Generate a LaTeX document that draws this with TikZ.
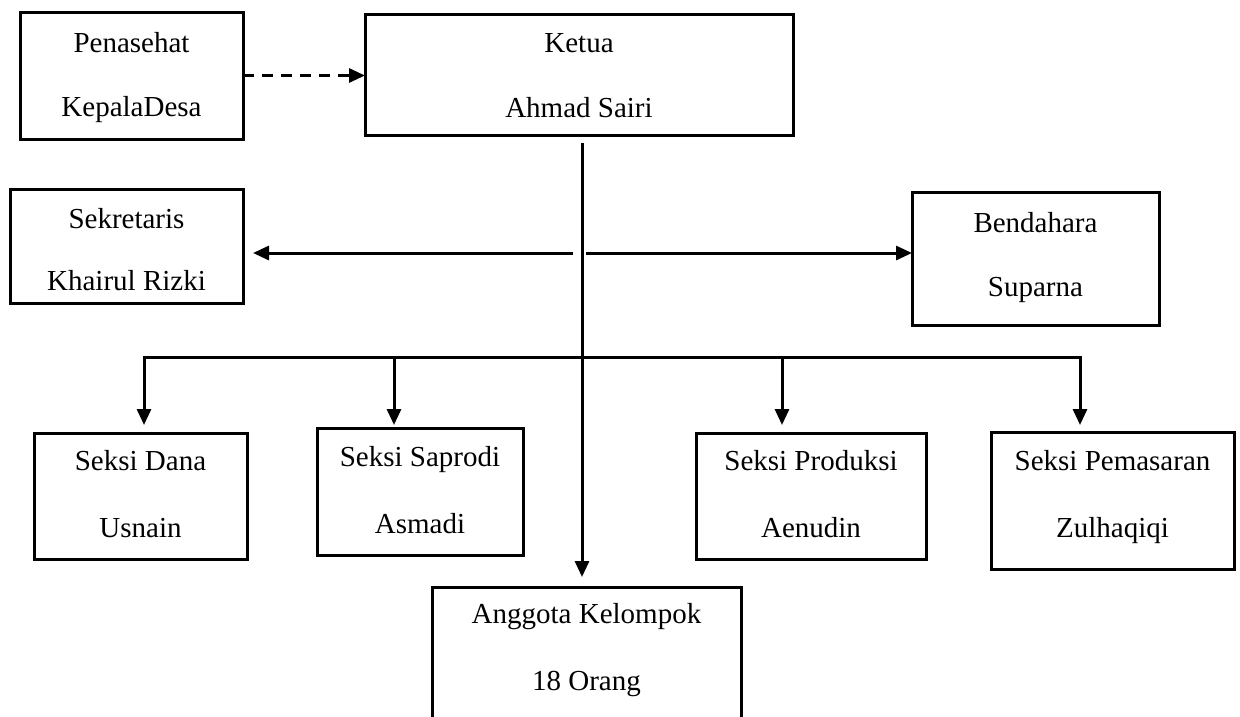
\documentclass[tikz,border=0pt]{standalone}
\usepackage{fontspec}
\setmainfont{Liberation Serif}
\usetikzlibrary{arrows.meta}

\tikzset{
  unitbox/.style={draw, rectangle, line width=3pt, inner sep=0pt, outer sep=0pt},
  unittext/.style={anchor=base, inner sep=0pt, font=\fontsize{29}{35}\selectfont},
  conn/.style={line width=3pt, -{Triangle[length=16pt,width=14pt]}},
  advice/.style={conn, dash pattern=on 11pt off 8pt},
}

% \orgunit{name}{x1}{y1}{x2}{y2}{baseline 1}{baseline 2}{line 1}{line 2}
\newcommand{\orgunit}[9]{%
  \node[unitbox, minimum width={(#4-#2)*1pt}, minimum height={(#5-#3)*1pt},
        anchor=north west] (#1) at (#2,#3) {};
  \node[unittext] (#1-a) at ({(#2+#4)/2},#6) {#8};
  \node[unittext] (#1-b) at ({(#2+#4)/2},#7) {#9};
}

\begin{document}
\begin{tikzpicture}[x=1pt, y=-1pt]
  \clip (0,0) rectangle (1240,716);

  % top row
  \orgunit{penasehat}{20}{12}{243}{139}{52}{116}{Penasehat}{KepalaDesa}
  \orgunit{ketua}{365}{14}{793}{135}{52}{117}{Ketua}{Ahmad Sairi}

  % secretary and treasurer
  \orgunit{sekretaris}{10}{189}{243}{303}{228}{290}{Sekretaris}{Khairul Rizki}
  \orgunit{bendahara}{912}{192}{1159}{325}{232}{296}{Bendahara}{Suparna}

  % sections
  \orgunit{dana}{34}{433}{247}{559}{470}{537}{Seksi Dana}{Usnain}
  \orgunit{saprodi}{317}{428}{523}{555}{466}{533}{Seksi Saprodi}{Asmadi}
  \orgunit{produksi}{696}{433}{926}{559}{470}{537}{Seksi Produksi}{Aenudin}
  \orgunit{pemasaran}{991}{432}{1234}{569}{470}{537}{Seksi Pemasaran}{Zulhaqiqi}

  % members
  \orgunit{anggota}{432}{587}{741}{760}{623}{690}{Anggota Kelompok}{18 Orang}

  % advisory link
  \draw[advice] (penasehat.east) -- (penasehat.east -| ketua.west);

  % main trunk
  \coordinate (trunktop) at (582,143);
  \draw[conn] (trunktop) -- ([yshift=10pt]trunktop |- anggota.north);

  % secretary / treasurer branches
  \coordinate (hl) at (573,253);
  \coordinate (hr) at (586,253);
  \draw[conn] (hl) -- ([xshift=10pt]sekretaris.east |- hl);
  \draw[conn] (hr) -- (bendahara.west |- hr);

  % section bus
  \coordinate (d1) at (144,357);
  \coordinate (d2) at (394,357);
  \coordinate (d3) at (782,357);
  \coordinate (d4) at (1080,357);
  \draw[conn] (d3) -- (d1) -- ([yshift=8pt]d1 |- dana.north);
  \draw[conn] (d3) -- (d4) -- ([yshift=7pt]d4 |- pemasaran.north);
  \draw[conn] (d2) -- ([yshift=3pt]d2 |- saprodi.north);
  \draw[conn] (d3) -- ([yshift=8pt]d3 |- produksi.north);
\end{tikzpicture}
\end{document}
